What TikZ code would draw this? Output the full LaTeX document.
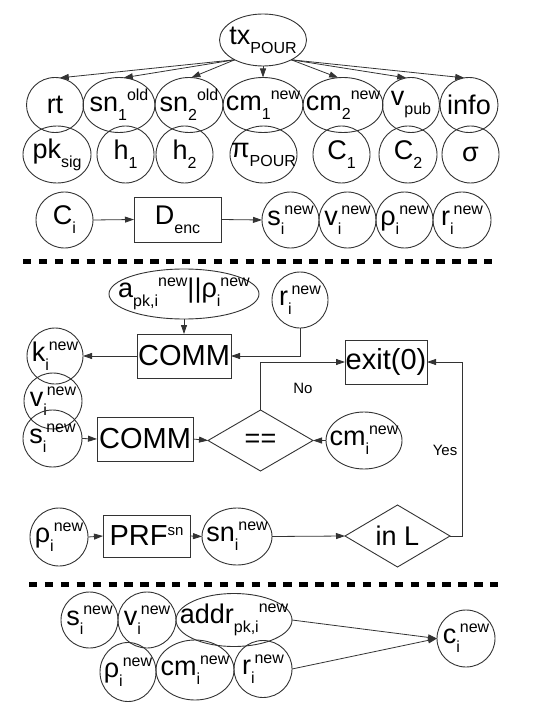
\documentclass[tikz,border=0pt]{standalone}
\usepackage{fontspec}
\setmainfont{Liberation Sans}
\usetikzlibrary{shapes.geometric,arrows.meta}
\newcommand{\mysub}[1]{\raisebox{-9pt}{\fontsize{16}{16}\selectfont #1}}
\newcommand{\mysup}[1]{\raisebox{11pt}{\fontsize{16}{16}\selectfont #1}}
\newcommand{\mysupsm}[1]{\raisebox{10pt}{\fontsize{15}{15}\selectfont #1}}
\definecolor{lc}{HTML}{333333}
\tikzset{
  ov/.style n args={3}{draw=lc, line width=0.9pt, ellipse, inner sep=0pt, outer sep=0pt,
    minimum width=#1, minimum height=#2, label={center:{#3}}},
  dm/.style n args={3}{draw=lc, line width=0.9pt, diamond, inner sep=0pt, outer sep=0pt,
    minimum width=#1, minimum height=#2, label={center:{#3}}},
  bx/.style={draw=lc, line width=0.9pt, rectangle, inner sep=0pt, outer sep=0pt},
  big/.style={font=\fontsize{29}{29}\selectfont},
  ar/.style={draw=lc, line width=0.8pt, -{Triangle[length=9pt,width=6pt]}},
  sepline/.style={line width=5pt, dash pattern=on 8.3pt off 7.6pt},
  small/.style={font=\fontsize{15}{15}\selectfont, inner sep=0pt}
}
\begin{document}
\begin{tikzpicture}[x=1pt,y=-1pt,font=\fontsize{27}{27}\selectfont]
\useasboundingbox (0,0) rectangle (547,719);

% ---------- top section ----------
\node[ov={87pt}{52pt}{tx\mysub{POUR}}] (tx) at (263,40) {};

\node[ov={57pt}{55pt}{rt}] (rt) at (55,105) {};
\node[ov={72pt}{55pt}{sn\mysub{1}\mysup{old}}] (sn1) at (119,105) {};
\node[ov={68pt}{55pt}{sn\mysub{2}\mysup{old}}] (sn2) at (189,105) {};
\node[ov={80pt}{55pt}{cm\mysub{1}\mysup{new}}] (cm1) at (263,105) {};
\node[ov={80pt}{55pt}{cm\mysub{2}\mysup{new}}] (cm2) at (343,105) {};
\node[ov={57pt}{55pt}{v\mysub{pub}}] (vpub) at (411,105) {};
\node[ov={58pt}{55pt}{info}] (info) at (469,105) {};

\node[ov={68pt}{57pt}{pk\mysub{sig}}] (pk) at (57,154.5) {};
\node[ov={57pt}{57pt}{h\mysub{1}}] (h1) at (125.5,154.5) {};
\node[ov={57pt}{57pt}{h\mysub{2}}] (h2) at (184.5,154.5) {};
\node[ov={67pt}{57pt}{π\mysub{POUR}}] (pi) at (263.5,154.5) {};
\node[ov={57pt}{57pt}{C\mysub{1}}] (C1) at (341.5,154.5) {};
\node[ov={58pt}{57pt}{C\mysub{2}}] (C2) at (408,154.5) {};
\node[ov={57pt}{57pt}{σ}] (sig) at (470.5,154.5) {};

\draw[ar] (tx.215) -- (rt.80);
\draw[ar] (tx.215) -- (sn1.80);
\draw[ar] (tx.215) -- (sn2.85);
\draw[ar] (tx.south) -- (cm1.north);
\draw[ar] (tx.325) -- (cm2.100);
\draw[ar] (tx.325) -- (vpub.100);
\draw[ar] (tx.325) -- (info.100);

\node[ov={57pt}{56pt}{C\mysub{i}}] (Ci) at (64.5,220) {};
\node[bx, minimum width=87pt, minimum height=45pt] (Denc) at (177.5,219.5) {D\mysub{enc}};
\node[ov={57pt}{56pt}{s\mysub{i}\mysup{new}}] (s1) at (290.5,220) {};
\node[ov={57pt}{56pt}{v\mysub{i}\mysup{new}}] (v1) at (347.5,220) {};
\node[ov={57pt}{56pt}{ρ\mysub{i}\mysup{new}}] (rho1) at (404.5,220) {};
\node[ov={58pt}{56pt}{r\mysub{i}\mysup{new}}] (r1) at (462,220) {};
\draw[ar] (Ci.east) -- (Denc.west);
\draw[ar] (Denc.east) -- (s1.west);

\coordinate (d1a) at (23,261);
\coordinate (d1b) at (492,261);
\draw[sepline] (d1a) -- (d1b);

% ---------- middle section ----------
\node[ov={150pt}{50pt}{a\mysub{pk,i}\mysup{new}\textbar\textbar ρ\mysub{i}\mysup{new}}] (a) at (184,294) {};
\node[ov={56pt}{56pt}{r\mysub{i}\mysup{new}}] (ri) at (300,300) {};
\node[bx, big, minimum width=94pt, minimum height=44pt] (comm1) at (184,356) {COMM};
\node[ov={56pt}{56pt}{k\mysub{i}\mysup{new}}] (k) at (55,356) {};
\node[bx, big, minimum width=82pt, minimum height=44pt] (exit) at (386,362) {exit(0)};
\node[ov={58pt}{56pt}{v\mysub{i}\mysup{new}}] (v2) at (53,401) {};
\node[ov={59pt}{57pt}{s\mysub{i}\mysup{new}}] (s2) at (52.5,438.5) {};
\node[bx, big, minimum width=96pt, minimum height=44pt] (comm2) at (145,439) {COMM};
\node[dm={105pt}{61pt}{==}] (eq) at (260.5,440.5) {};
\node[ov={76pt}{57pt}{cm\mysub{i}\mysup{new}}] (cm) at (364,440.5) {};

\node[ov={58pt}{58pt}{ρ\mysub{i}\mysup{new}}] (rho2) at (59,537) {};
\node[bx, big, minimum width=87pt, minimum height=42pt] (prf) at (146.5,536) {PRF\mysupsm{sn}};
\node[ov={70pt}{57pt}{sn\mysub{i}\mysup{new}}] (sn) at (237,536.5) {};
\node[dm={105pt}{62pt}{in L}] (inl) at (397.5,536) {};
\coordinate (yesc) at (462,536);

\node[small] (no) at (303,388) {No};
\node[small] (yes) at (445,450) {Yes};

\draw[ar] (a.south) -- (comm1.north);
\draw[ar] (ri.south) |- (comm1.east);
\draw[ar] (comm1.west) -- (k.east);
\draw[ar] (s2.east) -- (comm2.west);
\draw[ar] (comm2.east) -- (eq.west);
\draw[ar] (cm.west) -- (eq.east);
\draw[ar] (eq.north) |- (exit.west);
\draw[ar] (rho2.east) -- (prf.west);
\draw[ar] (prf.east) -- (sn.west);
\draw[ar] (sn.east) -- (inl.west);
\draw[ar] (inl.east) -- (yesc) |- (exit.east);

\coordinate (d2a) at (29,584.5);
\coordinate (d2b) at (499,584.5);
\draw[sepline] (d2a) -- (d2b);

% ---------- bottom section ----------
\node[ov={57pt}{56pt}{s\mysub{i}\mysup{new}}] (s3) at (89.5,620) {};
\node[ov={58pt}{56pt}{v\mysub{i}\mysup{new}}] (v3) at (147,620) {};
\node[ov={116pt}{53pt}{addr\mysub{pk,i}\mysup{new}}] (addr) at (234,620) {};
\node[ov={56pt}{59pt}{ρ\mysub{i}\mysup{new}}] (rho3) at (128,672) {};
\node[ov={78pt}{60pt}{cm\mysub{i}\mysup{new}}] (cm3) at (195,670) {};
\node[ov={58pt}{57pt}{r\mysub{i}\mysup{new}}] (r3) at (263,669) {};
\node[ov={58pt}{57pt}{c\mysub{i}\mysup{new}}] (c) at (466,638.5) {};
\draw[ar] (addr.east) -- (c.west);
\draw[ar] (r3.east) -- (c.west);
\end{tikzpicture}
\end{document}
